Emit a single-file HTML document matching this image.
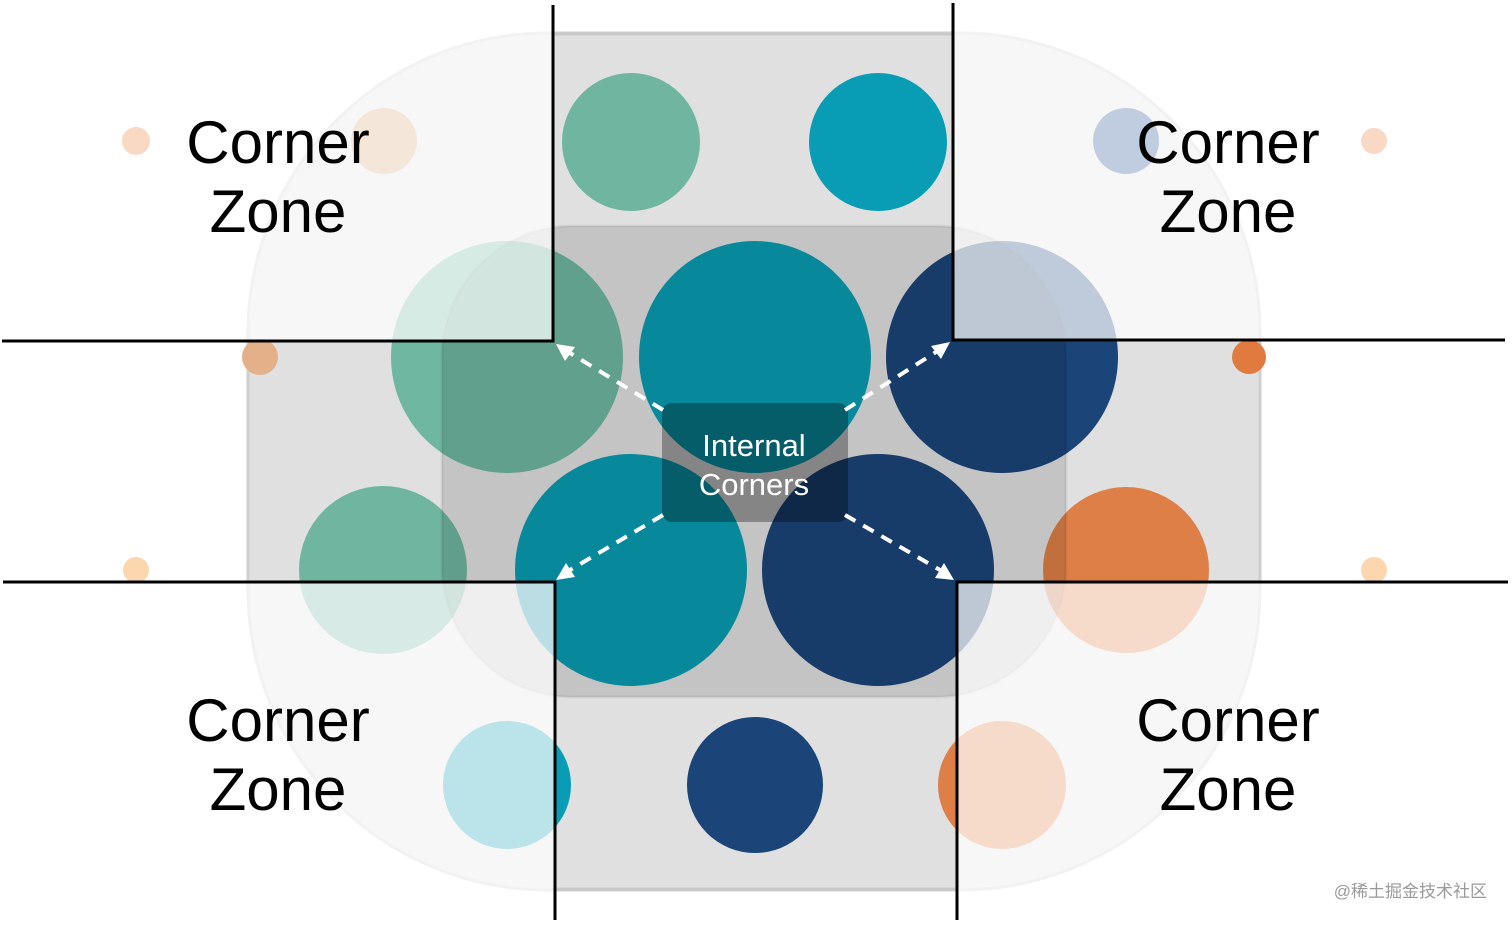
<!DOCTYPE html>
<html><head><meta charset="utf-8"><style>
html,body{margin:0;padding:0;background:#fff;width:1512px;height:926px;overflow:hidden}
svg{display:block}
</style></head><body>
<svg width="1512" height="926" viewBox="0 0 1512 926" xmlns="http://www.w3.org/2000/svg">
<rect x="0" y="0" width="1512" height="926" fill="#fff"/>
<rect x="248" y="33" width="1012" height="857" rx="300" ry="300" fill="#e0e0e0" stroke="#cfcfcf" stroke-width="3"/>
<g>
<circle cx="631" cy="142" r="69" fill="#6fb5a0"/>
<circle cx="878" cy="142" r="69" fill="#089db5"/>
<circle cx="507" cy="357" r="116" fill="#6fb7a1"/>
<circle cx="755" cy="357" r="116" fill="#0a9db2"/>
<circle cx="1002" cy="357" r="116" fill="#1b4579"/>
<circle cx="383" cy="570" r="84" fill="#6fb5a0"/>
<circle cx="631" cy="570" r="116" fill="#0a9db2"/>
<circle cx="878" cy="570" r="116" fill="#1b4579"/>
<circle cx="1126" cy="570" r="83" fill="#de7f47"/>
<circle cx="507" cy="785" r="64" fill="#089db5"/>
<circle cx="755" cy="785" r="68" fill="#1b4579"/>
<circle cx="1002" cy="785" r="64" fill="#de7f47"/>
<circle cx="260" cy="357" r="18" fill="#e3b089"/>
<circle cx="1249" cy="357" r="17" fill="#e07a3e"/>
</g>
<rect x="442" y="226" width="624" height="471" rx="130" ry="130" fill="#000" fill-opacity="0.125" stroke="#000" stroke-opacity="0.06" stroke-width="3"/>
<line x1="553" y1="34" x2="953" y2="34" stroke="#c8c8c8" stroke-width="3"/>
<line x1="553" y1="889" x2="957" y2="889" stroke="#c8c8c8" stroke-width="3"/>
<g fill="#fff" fill-opacity="0.72">
<rect x="0" y="0" width="553" height="341"/>
<rect x="953" y="0" width="559" height="340"/>
<rect x="0" y="582" width="555" height="344"/>
<rect x="957" y="582" width="555" height="344"/>
</g>
<circle cx="136" cy="141" r="14" fill="#f9d9c4"/>
<circle cx="384" cy="141" r="33" fill="#f5e6da"/>
<circle cx="1126" cy="141" r="33" fill="#c0cde0"/>
<circle cx="1374" cy="141" r="13" fill="#f9d9c4"/>
<circle cx="136" cy="570" r="13" fill="#fbd6ae"/>
<circle cx="1374" cy="570" r="13" fill="#fbd6ae"/>
<g stroke="#000" stroke-width="3" fill="none">
<polyline points="2,341 553,341 553,5"/>
<polyline points="953,3 953,340 1505,340"/>
<polyline points="3,582 555,582 555,920"/>
<polyline points="957,920 957,582 1508,582"/>
</g>
<rect x="662" y="403" width="186" height="119" rx="10" fill="#000" fill-opacity="0.32"/>
<text x="754" y="456" text-anchor="middle" font-family="Liberation Sans, sans-serif" font-size="31" fill="#fff">Internal</text>
<text x="754" y="495" text-anchor="middle" font-family="Liberation Sans, sans-serif" font-size="31" fill="#fff">Corners</text>
<g stroke="#fff" stroke-width="4" stroke-dasharray="12,9" fill="none">
<line x1="663" y1="410" x2="570" y2="353"/>
<line x1="845" y1="410" x2="936" y2="352"/>
<line x1="663" y1="515" x2="570" y2="570"/>
<line x1="845" y1="515" x2="940" y2="570"/>
</g>
<g fill="#fff">
<polygon points="556,344 575,347 565,361"/>
<polygon points="950,342 941,359 931,346"/>
<polygon points="556,580 566,563 575,577"/>
<polygon points="954,580 935,578 944,563"/>
</g>
<g font-family="Liberation Sans, sans-serif" font-size="60" fill="#000" text-anchor="middle">
<text x="278" y="163">Corner</text><text x="278" y="232">Zone</text>
<text x="1228" y="163">Corner</text><text x="1228" y="232">Zone</text>
<text x="278" y="741">Corner</text><text x="278" y="810">Zone</text>
<text x="1228" y="741">Corner</text><text x="1228" y="810">Zone</text>
</g>
<text x="1487" y="897" text-anchor="end" font-family="Liberation Sans, 'Noto Sans CJK SC', sans-serif" font-size="17" fill="#9a9a9a">@稀土掘金技术社区</text>
</svg>
</body></html>
